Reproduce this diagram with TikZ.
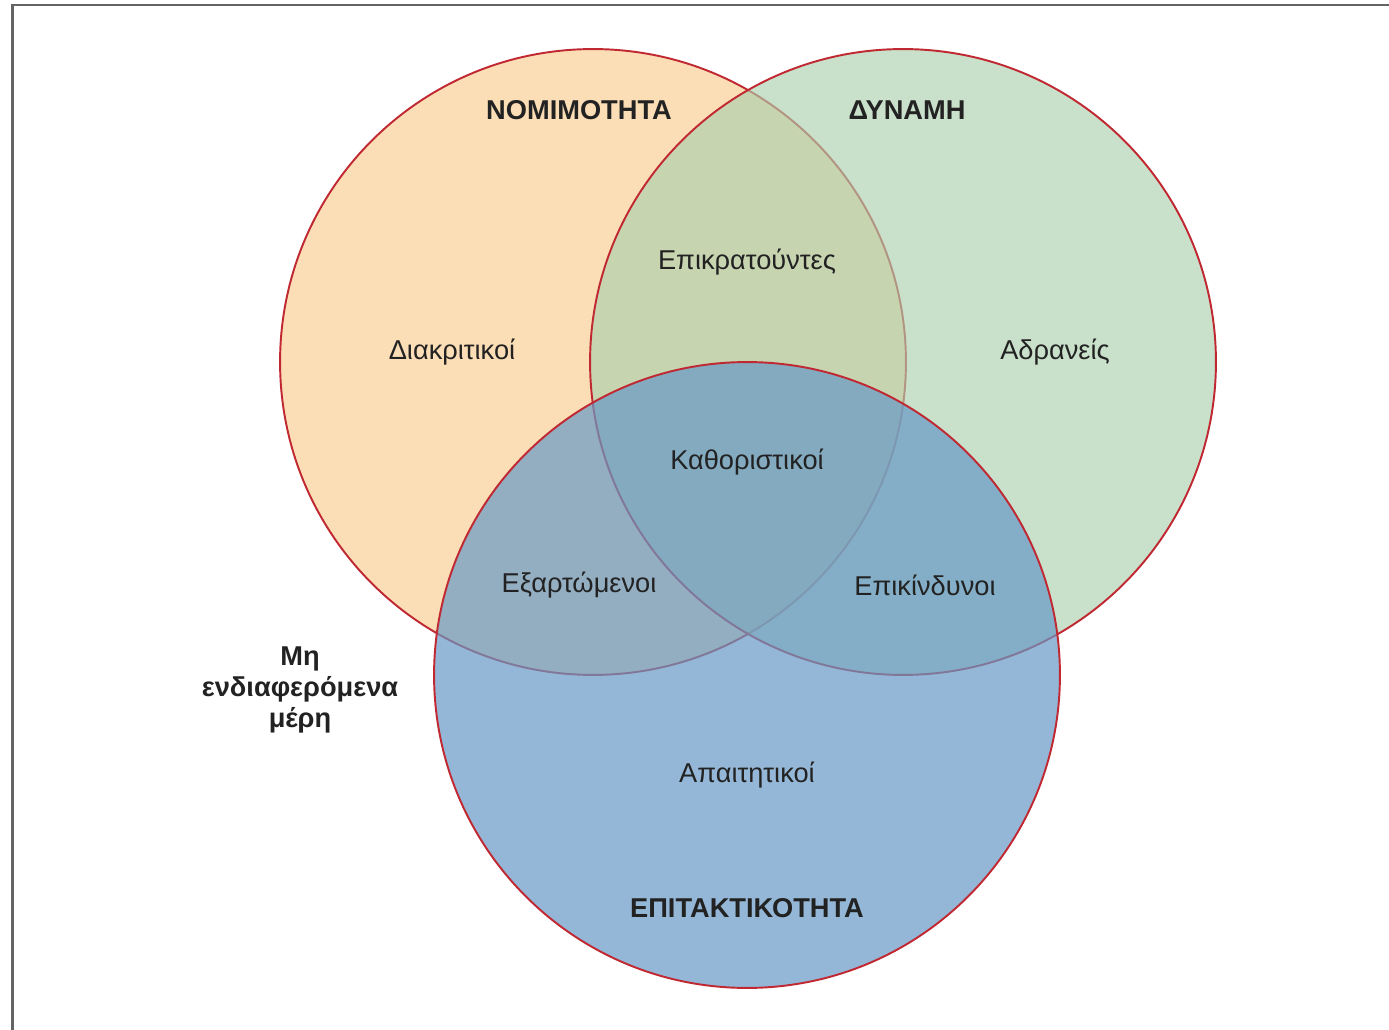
\documentclass[tikz,border=0pt]{standalone}
\usepackage{fontspec}
\setmainfont{Liberation Sans}
\usetikzlibrary{positioning}

\definecolor{ringred}{RGB}{192,40,50}
\definecolor{setorange}{RGB}{252,222,182}
\definecolor{setgreen}{RGB}{172,207,173}
\definecolor{setblue}{RGB}{103,153,198}
\definecolor{inkgray}{RGB}{34,34,34}
\definecolor{framegray}{RGB}{100,100,100}

\begin{document}
\begin{tikzpicture}[
    x=0.02cm, y=-0.02cm,
    set/.style={circle, draw=ringred, line width=1.1pt, minimum size=12.52cm,
                inner sep=0pt, fill=#1},
    lbl/.style={font=\fontsize{15.5}{17.5}\selectfont, text=inkgray, align=center},
    head/.style={lbl, font=\fontsize{15.5}{17.5}\selectfont\bfseries}
  ]

  \useasboundingbox (0,0) rectangle (1389,1030);
  \clip (0,0) rectangle (1389,1030);
  \draw[framegray, line width=1.4pt] (12.5,5) rectangle (1420,1060);

  % the three sets
  \node[set=setorange]                         (nomi) at (593,362) {};
  \node[set=setgreen, fill opacity=0.65]       (dyn)  at (903,362) {};
  \node[set=setblue, fill opacity=0.7]         (epit) at (747,675) {};

  \node[head] (nomiT) at (579,110) {ΝΟΜΙΜΟΤΗΤΑ};
  \node[head] (dynT)  at (907,110) {ΔΥΝΑΜΗ};
  \node[head] (epitT) at (747,908) {ΕΠΙΤΑΚΤΙΚΟΤΗΤΑ};

  \node[lbl] (epikr) at (747,262) {Επικρατούντες};
  \node[lbl] (diakr) at (452,352) {Διακριτικοί};
  \node[lbl] (adran) at (1055,352) {Αδρανείς};
  \node[lbl] (katho) at (747,462) {Καθοριστικοί};
  \node[lbl] (exart) at (579,585) {Εξαρτώμενοι};
  \node[lbl] (epikn) at (925,585) {Επικίνδυνοι};
  \node[lbl] (apait) at (747,775) {Απαιτητικοί};

  \node[head] (mhend) at (300,690) {Μη\\ενδιαφερόμενα\\μέρη};

\end{tikzpicture}
\end{document}
